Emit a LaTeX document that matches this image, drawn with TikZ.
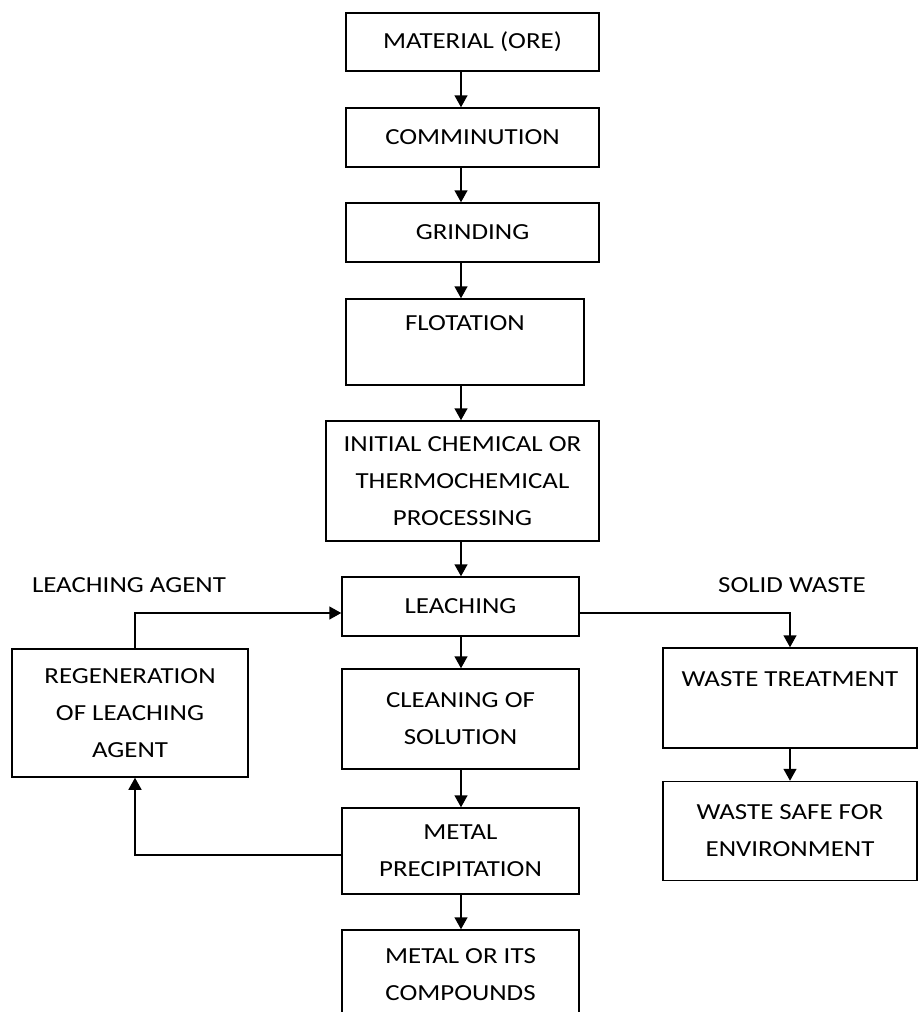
\documentclass[tikz,border=0pt]{standalone}
\usepackage{fontspec}
\setmainfont{Carlito}[FakeStretch=1.17]
\usetikzlibrary{arrows.meta,positioning}

\begin{document}
\begin{tikzpicture}[x=1pt,y=-1pt,>={Triangle[length=12pt,width=13pt]},line width=1.5pt]
    % one unit is one pixel of the page, y runs downwards
    \tikzstyle{stage}=[rectangle,draw=black,inner sep=0pt,align=center,
    font=\fontsize{23}{37}\selectfont]
    \tikzstyle{stream}=[inner sep=0pt,font=\fontsize{23}{37}\selectfont]

    \useasboundingbox (0,0) rectangle (918,1012);

    \coordinate (mid) at (461,0);
    \coordinate (agent) at (135,613);
    \coordinate (back) at (135,855);

    \node [stage,minimum width=253pt,minimum height=58pt] (ore) at (472.5,42) {MATERIAL (ORE)};
    \node [stage,minimum width=253pt,minimum height=59pt] (comm) at (472.5,137.5) {COMMINUTION};
    \node [stage,minimum width=253pt,minimum height=59pt] (grind) at (472.5,232.5) {GRINDING};
    \node [stage,minimum width=238pt,minimum height=86pt] (flot) at (465,342) {FLOTATION\\ {}};
    \node [stage,minimum width=273pt,minimum height=120pt] (init) at (462.5,481)
      {INITIAL CHEMICAL OR\\THERMOCHEMICAL\\PROCESSING};
    \node [stage,minimum width=237pt,minimum height=59pt] (leach) at (460.5,606.5) {LEACHING};
    \node [stage,minimum width=237pt,minimum height=100pt] (clean) at (460.5,719) {CLEANING OF\\SOLUTION};
    \node [stage,minimum width=237pt,minimum height=86pt] (precip) at (460.5,851) {METAL\\PRECIPITATION};
    \node [stage,minimum width=237pt,minimum height=90pt] (metal) at (460.5,975) {METAL OR ITS\\COMPOUNDS};

    \node [stage,minimum width=236pt,minimum height=128pt] (regen) at (130,713)
      {REGENERATION\\OF LEACHING\\AGENT};
    \node [stage,minimum width=254pt,minimum height=100pt] (treat) at (790,698) {WASTE TREATMENT\\ {}};
    \node [stage,minimum width=254pt,minimum height=99pt] (safe) at (790,831) {WASTE SAFE FOR\\ENVIRONMENT};

    \node [stream] (agentlbl) at (129,585) {LEACHING AGENT};
    \node [stream] (wastelbl) at (792,585) {SOLID WASTE};

    \path (ore.south -| mid) edge [->] (comm.north -| mid);
    \path (comm.south -| mid) edge [->] (grind.north -| mid);
    \path (grind.south -| mid) edge [->] (flot.north -| mid);
    \path (flot.south -| mid) edge [->] (init.north -| mid);
    \path (init.south -| mid) edge [->] (leach.north -| mid);
    \path (leach.south -| mid) edge [->] (clean.north -| mid);
    \path (clean.south -| mid) edge [->] (precip.north -| mid);
    \path (precip.south -| mid) edge [->] (metal.north -| mid);
    \path (treat) edge [->] (safe);

    \draw [->] (regen.north -| agent) |- (leach.west |- agent);
    \draw [->] (leach.east |- agent) -| (treat.north);
    \draw [->] (precip.west |- back) -| (regen.south -| back);

\end{tikzpicture}
\end{document}
